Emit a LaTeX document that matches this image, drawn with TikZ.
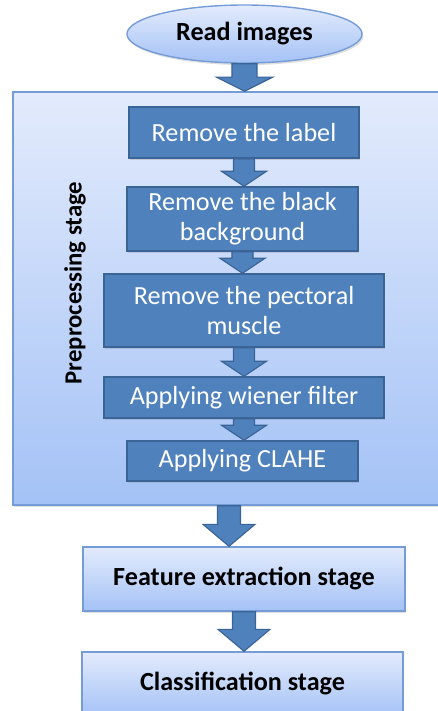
\documentclass[tikz,border=0pt]{standalone}
\usepackage{fontspec}
\setmainfont{Carlito}
\usetikzlibrary{shapes.geometric,shadows,calc}

\definecolor{boxblue}{RGB}{79,129,189}
\definecolor{boxline}{RGB}{58,99,150}
\definecolor{paletop}{RGB}{227,235,252}
\definecolor{palebot}{RGB}{164,194,246}
\definecolor{paleline}{RGB}{118,156,216}

\tikzset{
    stepbox/.style={draw=boxline, line width=1pt, fill=boxblue, text=white,
        font=\fontsize{18.6}{21.5}\selectfont, align=center, inner sep=0pt,
        drop shadow={shadow xshift=1pt, shadow yshift=-1.5pt, opacity=0.25}},
    stagebox/.style={draw=paleline, line width=1pt, top color=paletop, bottom color=palebot,
        font=\bfseries\fontsize{18.6}{21.5}\selectfont, align=center, inner sep=0pt,
        drop shadow={shadow xshift=1pt, shadow yshift=-1.5pt, opacity=0.25}},
    blockarrow/.style={draw=boxline, line width=0.8pt, fill=boxblue}
}

% from, to, shaft half width, head half width, head length
\newcommand{\downarrowto}[5]{%
    \draw[blockarrow] let \p1=(#1.south), \p2=(#2.north) in
        (\x1-#3,\y1) -- (\x1-#3,\y2+#5) -- (\x1-#4,\y2+#5) -- (\x1,\y2)
        -- (\x1+#4,\y2+#5) -- (\x1+#3,\y2+#5) -- (\x1+#3,\y1) -- cycle;
}

\begin{document}
\begin{tikzpicture}[x=0.025cm, y=-0.025cm]
\useasboundingbox (0,0) rectangle (437,711);

\node[stagebox, ellipse, minimum width=5.875cm, minimum height=1.45cm] (read) at (244.5,34) {Read images};

\node[stagebox, minimum width=10.8cm, minimum height=10.325cm] (prep) at (229,298.5) {};
\node[rotate=90, font=\bfseries\fontsize{17.6}{21}\selectfont] (preplabel) at (75,283) {Preprocessing stage};

\node[stepbox, minimum width=5.75cm, minimum height=1.275cm] (label) at (244,132.5) {Remove the label};
\node[stepbox, minimum width=5.775cm, minimum height=1.6cm] (black) at (242.5,219) {Remove the black\\background};
\node[stepbox, minimum width=7cm, minimum height=1.825cm] (pect) at (244,310.5) {Remove the pectoral\\muscle};
\node[stepbox, minimum width=7cm, minimum height=1.025cm] (wiener) at (244,397.5) {Applying wiener filter};
\node[stepbox, minimum width=5.775cm, minimum height=1cm] (clahe) at (242.5,461) {Applying CLAHE};

\node[stagebox, minimum width=8.05cm, minimum height=1.6cm] (feat) at (244,579) {Feature extraction stage};
\node[stagebox, minimum width=8.025cm, minimum height=1.6cm] (class) at (242.5,684) {Classification stage};

\downarrowto{read}{prep}{8.9pt}{20pt}{10pt}
\foreach \a/\b in {label/black, black/pect, pect/wiener, wiener/clahe}
{
    \downarrowto{\a}{\b}{7.5pt}{16pt}{10.7pt}
};
\foreach \a/\b in {prep/feat, feat/class}
{
    \downarrowto{\a}{\b}{8.2pt}{18.5pt}{15.6pt}
};

\end{tikzpicture}
\end{document}
